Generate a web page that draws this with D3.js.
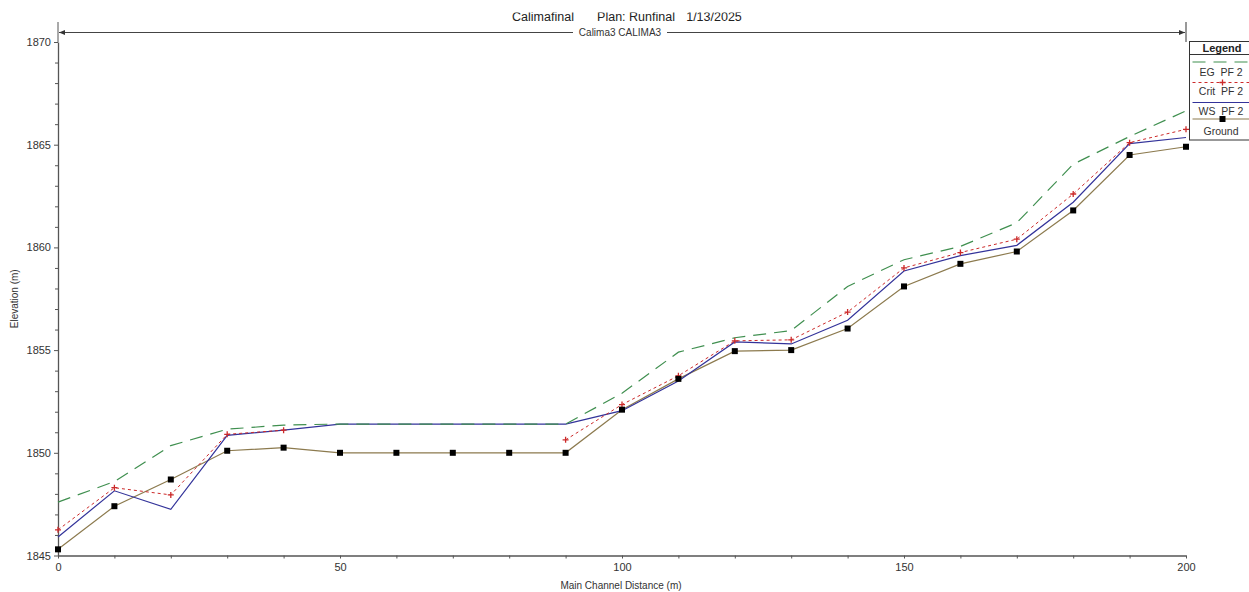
<!DOCTYPE html>
<html>
<head>
<meta charset="utf-8">
<script src="https://cdn.jsdelivr.net/npm/d3@7"></script>
<style>
  html, body { margin: 0; padding: 0; background: #fff; }
  svg { display: block; font-family: "Liberation Sans", Arial, sans-serif; }
</style>
</head>
<body>
<svg id="chart" width="1249" height="592"></svg>
<script>
// ---- data ----
const distance = [0, 10, 20, 30, 40, 50, 60, 70, 80, 90, 100, 110, 120, 130, 140, 150, 160, 170, 180, 190, 200];
const ground = [1845.3, 1847.4, 1848.7, 1850.1, 1850.25, 1850.0, 1850.0, 1850.0, 1850.0, 1850.0, 1852.1, 1853.6, 1854.95, 1855.0, 1856.05, 1858.1, 1859.2, 1859.8, 1861.8, 1864.5, 1864.9];
const wsPF2 = [1845.9, 1848.15, 1847.25, 1850.85, 1851.1, 1851.4, 1851.4, 1851.4, 1851.4, 1851.4, 1852.05, 1853.5, 1855.4, 1855.3, 1856.45, 1858.85, 1859.6, 1860.1, 1862.2, 1865.05, 1865.35];
const critPF2 = [1846.25, 1848.3, 1847.95, 1850.9, 1851.1, null, null, null, null, 1850.63, 1852.35, 1853.75, 1855.45, 1855.5, 1856.85, 1859.0, 1859.75, 1860.4, 1862.6, 1865.1, 1865.75];
const egPF2 = [1847.6, 1848.6, 1850.35, 1851.15, 1851.35, 1851.4, 1851.4, 1851.4, 1851.4, 1851.4, 1852.9, 1854.9, 1855.6, 1855.95, 1858.1, 1859.4, 1860.05, 1861.2, 1864.05, 1865.4, 1866.65];
const xTickLabels = [0, 50, 100, 150, 200];
const yTickLabels = [1845, 1850, 1855, 1860, 1865, 1870];
const legendLabels = ["EG  PF 2", "Crit  PF 2", "WS  PF 2", "Ground"];
const titleParts = ["Calimafinal", "Plan: Runfinal", "1/13/2025"];
const reachLabel = "Calima3 CALIMA3";

// ---- layout ----
const svg = d3.select("#chart");
const X0 = 58, X1 = 1186, YTOP = 42, YBOT = 555.5;
const x = d3.scaleLinear().domain([0, 200]).range([X0, X1]);
const y = d3.scaleLinear().domain([1845, 1870]).range([YBOT, YTOP]);
const axisCol = "#555";
const textCol = "#333";

const colors = { eg: "#3f8f4f", crit: "#cc2a2a", ws: "#33339a", ground: "#8c7a4e" };

// ---- title (clipped at top like the reference) ----
svg.append("defs").append("clipPath").attr("id", "titleClip")
  .append("rect").attr("x", 0).attr("y", 12.5).attr("width", 1249).attr("height", 20);
const tg = svg.append("g").attr("clip-path", "url(#titleClip)");
const titleX = [543, 636, 714];
titleParts.forEach((t, i) => {
  tg.append("text").attr("x", titleX[i]).attr("y", 20.5).attr("text-anchor", "middle")
    .attr("font-size", 12.5).attr("fill", "#222").text(t);
});

// ---- reach arrow line ----
const defs = svg.select("defs");
defs.append("marker").attr("id", "arrR").attr("viewBox", "0 0 10 10").attr("refX", 10).attr("refY", 5)
  .attr("markerWidth", 6).attr("markerHeight", 6).attr("orient", "auto")
  .append("path").attr("d", "M0,1 L10,5 L0,9 Z").attr("fill", "#333");
defs.append("marker").attr("id", "arrL").attr("viewBox", "0 0 10 10").attr("refX", 10).attr("refY", 5)
  .attr("markerWidth", 6).attr("markerHeight", 6).attr("orient", "auto")
  .append("path").attr("d", "M0,1 L10,5 L0,9 Z").attr("fill", "#333");
const arrowY = 32.5;
svg.append("line").attr("x1", 573).attr("x2", X0 + 1).attr("y1", arrowY).attr("y2", arrowY)
  .attr("stroke", "#444").attr("stroke-width", 1).attr("marker-end", "url(#arrL)");
svg.append("line").attr("x1", 667).attr("x2", X1 - 1).attr("y1", arrowY).attr("y2", arrowY)
  .attr("stroke", "#444").attr("stroke-width", 1).attr("marker-end", "url(#arrR)");
svg.append("line").attr("x1", X1).attr("x2", X1).attr("y1", 22).attr("y2", 42)
  .attr("stroke", "#333").attr("stroke-width", 1);
svg.append("text").attr("x", 620).attr("y", arrowY + 3.5).attr("text-anchor", "middle")
  .attr("font-size", 10).attr("fill", textCol).text(reachLabel);

// ---- axes ----
const yMinor = d3.range(1845, 1871, 1).filter(v => v % 5 !== 0);
svg.append("g").attr("transform", `translate(${X0},0)`)
  .call(d3.axisLeft(y).tickValues(yTickLabels).tickSize(4).tickSizeOuter(0).tickFormat(d3.format("d")));
svg.append("g").attr("transform", `translate(${X0},0)`)
  .call(d3.axisLeft(y).tickValues(yMinor).tickSize(3).tickSizeOuter(0).tickFormat(""))
  .call(g => g.select(".domain").remove());
svg.append("line").attr("x1", X0).attr("x2", X0).attr("y1", 22).attr("y2", YTOP)
  .attr("stroke", axisCol);

const xMinor = distance.filter(v => v % 50 !== 0);
svg.append("g").attr("transform", `translate(0,${YBOT})`)
  .call(d3.axisBottom(x).tickValues(xTickLabels).tickSize(3).tickSizeOuter(0).tickPadding(5).tickFormat(d3.format("d")));
svg.append("g").attr("transform", `translate(0,${YBOT})`)
  .call(d3.axisBottom(x).tickValues(xMinor).tickSize(3).tickSizeOuter(0).tickFormat(""))
  .call(g => g.select(".domain").remove());

svg.selectAll(".domain").attr("stroke", axisCol).attr("stroke-width", 1.3);
svg.selectAll(".tick line").attr("stroke", axisCol);
svg.selectAll(".tick text").attr("fill", textCol).attr("font-size", 11)
  .attr("font-family", "Liberation Sans, Arial, sans-serif");

svg.append("text").attr("transform", `translate(15,${(YTOP + YBOT) / 2}) rotate(-90)`)
  .attr("text-anchor", "middle").attr("dominant-baseline", "middle")
  .attr("font-size", 10).attr("fill", textCol).text("Elevation (m)");
svg.append("text").attr("x", 621).attr("y", 589).attr("text-anchor", "middle")
  .attr("font-size", 10).attr("fill", textCol).text("Main Channel Distance (m)");

// ---- series ----
const rows = distance.map((d, i) => ({ d, g: ground[i], ws: wsPF2[i], crit: critPF2[i], eg: egPF2[i] }));
const lineOf = key => d3.line().defined(r => r[key] !== null).x(r => x(r.d)).y(r => y(r[key]));

svg.append("path").datum(rows).attr("d", lineOf("g")).attr("fill", "none")
  .attr("stroke", colors.ground).attr("stroke-width", 1.2);
svg.append("path").datum(rows).attr("d", lineOf("ws")).attr("fill", "none")
  .attr("stroke", colors.ws).attr("stroke-width", 1.2);
svg.append("path").datum(rows).attr("d", lineOf("crit")).attr("fill", "none")
  .attr("stroke", colors.crit).attr("stroke-width", 1).attr("stroke-dasharray", "3,3");
svg.append("path").datum(rows).attr("d", lineOf("eg")).attr("fill", "none")
  .attr("stroke", colors.eg).attr("stroke-width", 1.2).attr("stroke-dasharray", "13,8");

// crit + markers
svg.append("g").selectAll("path").data(rows.filter(r => r.crit !== null)).join("path")
  .attr("d", r => `M${x(r.d) - 3},${y(r.crit)} h6 M${x(r.d)},${y(r.crit) - 3} v6`)
  .attr("stroke", colors.crit).attr("stroke-width", 1.3);
// ground square markers
svg.append("g").selectAll("rect").data(rows).join("rect")
  .attr("x", r => x(r.d) - 3).attr("y", r => y(r.g) - 3).attr("width", 6).attr("height", 6)
  .attr("fill", "#000");

// ---- legend ----
const LX = 1189.5, LY = 41.5, LW = 70;
const lg = svg.append("g");
lg.append("rect").attr("x", LX).attr("y", LY).attr("width", LW).attr("height", 98.5)
  .attr("fill", "#fff").attr("stroke", "#333").attr("stroke-width", 1);
lg.append("text").attr("x", 1222).attr("y", 52).attr("text-anchor", "middle")
  .attr("font-size", 11).attr("font-weight", "bold").attr("fill", "#222").text("Legend");
lg.append("line").attr("x1", LX).attr("x2", LX + LW).attr("y1", 54.5).attr("y2", 54.5)
  .attr("stroke", "#333");
const legendLineY = [62, 82.5, 102.5, 119];
const legendTextY = [75.5, 94.5, 114.5, 134.5];
const legendStyles = [
  { c: colors.eg, dash: "13,8", w: 1.2 },
  { c: colors.crit, dash: "3,3", w: 1 },
  { c: colors.ws, dash: null, w: 1.2 },
  { c: colors.ground, dash: null, w: 1.2 }
];
legendLabels.forEach((t, i) => {
  lg.append("line").attr("x1", LX + 3).attr("x2", LX + LW).attr("y1", legendLineY[i]).attr("y2", legendLineY[i])
    .attr("stroke", legendStyles[i].c).attr("stroke-width", legendStyles[i].w)
    .attr("stroke-dasharray", legendStyles[i].dash);
  lg.append("text").attr("x", 1221).attr("y", legendTextY[i]).attr("text-anchor", "middle")
    .attr("font-size", 10.5).attr("fill", textCol).attr("xml:space", "preserve").text(t);
});
lg.append("path").attr("d", `M1219.5,${legendLineY[1]} h6 M1222.5,${legendLineY[1] - 3} v6`)
  .attr("stroke", colors.crit).attr("stroke-width", 1.3);
lg.append("rect").attr("x", 1219.5).attr("y", legendLineY[3] - 3).attr("width", 6).attr("height", 6).attr("fill", "#000");
</script>
</body>
</html>
